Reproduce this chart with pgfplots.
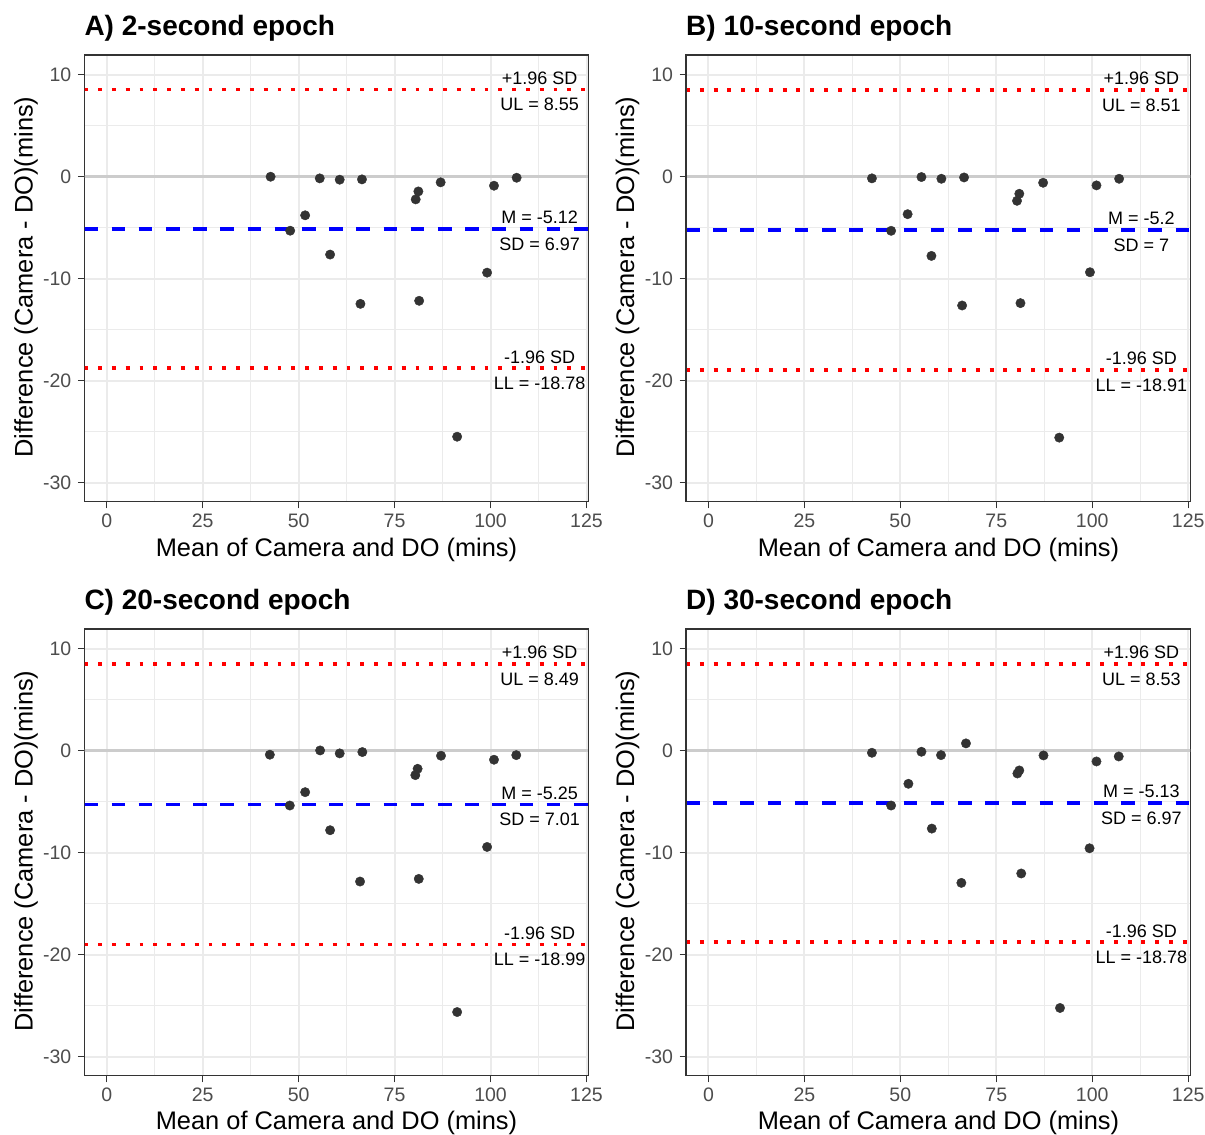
\documentclass[border=0pt]{standalone}
\usepackage{fontspec}
\setmainfont{Liberation Sans}
\usepackage{pgfplots}
\pgfplotsset{compat=1.18}
\usepackage{pgfplotstable}

\definecolor{ggrid}{HTML}{EBEBEB}
\definecolor{zeroline}{HTML}{CCCCCC}
\definecolor{frame}{HTML}{333333}
\definecolor{tlab}{HTML}{4D4D4D}
\definecolor{ptcol}{HTML}{333333}
\definecolor{lred}{HTML}{FF0000}
\definecolor{lblue}{HTML}{0000FF}

\newcommand\titlefont{\fontsize{28bp}{32bp}\selectfont\bfseries}
\newcommand\labfont{\fontsize{25.4bp}{29bp}\selectfont}
\newcommand\annotfont{\fontsize{18bp}{21bp}\selectfont}

\pgfplotstableread{
x y
42.7 0.00
47.8 -5.29
51.7 -3.78
55.5 -0.16
58.2 -7.63
60.7 -0.29
66.5 -0.26
66.1 -12.46
80.5 -2.22
81.2 -1.44
81.4 -12.16
87.0 -0.55
91.3 -25.48
99.1 -9.40
100.9 -0.88
106.8 -0.10
}\dataA
\pgfplotstableread{
x y
42.6 -0.16
47.6 -5.30
51.9 -3.67
55.5 -0.03
58.1 -7.76
60.7 -0.20
66.6 -0.07
66.1 -12.62
80.4 -2.36
81.0 -1.67
81.3 -12.39
87.2 -0.59
91.4 -25.57
99.4 -9.36
101.1 -0.85
107.0 -0.20
}\dataB
\pgfplotstableread{
x y
42.5 -0.39
47.7 -5.37
51.7 -4.06
55.6 0.03
58.2 -7.79
60.7 -0.26
66.6 -0.13
66.0 -12.82
80.4 -2.39
81.0 -1.77
81.3 -12.56
87.1 -0.49
91.3 -25.61
99.1 -9.43
100.9 -0.88
106.7 -0.43
}\dataC
\pgfplotstableread{
x y
42.6 -0.20
47.6 -5.37
52.1 -3.24
55.5 -0.10
58.2 -7.63
60.6 -0.43
67.1 0.72
65.9 -12.95
80.5 -2.23
81.0 -1.93
81.5 -12.03
87.3 -0.46
91.6 -25.21
99.3 -9.56
101.1 -1.05
106.9 -0.56
}\dataD

\pgfplotsset{
  baplot/.style={
    scale only axis, width=504.5bp, height=446.8bp,
    xmin=-5.84, xmax=125.6, ymin=-31.86, ymax=11.93,
    xtick={0,25,50,75,100,125}, xticklabels={0,25,50,75,100,125},
    ytick={-30,-20,-10,0,10}, yticklabels={-30,-20,-10,0,10},
    minor xtick={12.5,37.5,62.5,87.5,112.5}, minor ytick={-25,-15,-5,5},
    grid=both,
    major grid style={color=ggrid, line width=2bp},
    minor grid style={color=ggrid, line width=1bp},
    minor tick length=0pt,
    major tick length=6.5bp,
    tick align=outside,
    xtick pos=bottom, ytick pos=left,
    tick style={color=frame, line width=1.3bp},
    axis line style={color=frame, line width=1.3bp},
    ticklabel style={font=\fontsize{19.5bp}{22bp}\selectfont, text=tlab, inner sep=0pt},
    xticklabel style={anchor=north, yshift=-5.5bp},
    yticklabel style={anchor=east, xshift=-6.3bp},
    clip=true,
  },
  pts/.style={only marks, mark=*, mark size=4.7bp, color=ptcol, mark options={draw=none, fill=ptcol}},
  zl/.style={color=zeroline, line width=2.5bp},
  lim/.style={color=lred, line width=3.9bp, dash pattern=on 3.9bp off 9.9bp},
  mn/.style={color=lblue, line width=3.6bp, dash pattern=on 13.6bp off 13.6bp},
}
\tikzset{an/.style={font=\annotfont, text=black, inner sep=0pt, anchor=center}}

\begin{document}
\begin{tikzpicture}
\path[use as bounding box] (0,0) rectangle (1205bp,-1135bp);

% ---------- A ----------
\begin{axis}[baplot, at={(84.3bp,-55bp)}, anchor=north west]
\addplot[zl] coordinates {(-5.84,0) (125.6,0)};
\addplot[lim] coordinates {(-5.84,8.55) (125.6,8.55)};
\addplot[lim] coordinates {(-5.84,-18.78) (125.6,-18.78)};
\addplot[mn] coordinates {(-5.84,-5.12) (125.6,-5.12)};
\addplot[pts] table[x=x,y=y] {\dataA};
\node[an] at (axis cs:112.8,9.67) {+1.96 SD};
\node[an] at (axis cs:112.8,7.05) {UL = 8.55};
\node[an] at (axis cs:112.8,-4.00) {M = -5.12};
\node[an] at (axis cs:112.8,-6.62) {SD = 6.97};
\node[an] at (axis cs:112.8,-17.66) {-1.96 SD};
\node[an] at (axis cs:112.8,-20.28) {LL = -18.78};
\draw[frame, line width=1.3bp] (rel axis cs:0,0) rectangle (rel axis cs:1,1);
\end{axis}

% ---------- B ----------
\begin{axis}[baplot, at={(686bp,-55bp)}, anchor=north west]
\addplot[zl] coordinates {(-5.84,0) (125.6,0)};
\addplot[lim] coordinates {(-5.84,8.51) (125.6,8.51)};
\addplot[lim] coordinates {(-5.84,-18.91) (125.6,-18.91)};
\addplot[mn] coordinates {(-5.84,-5.2) (125.6,-5.2)};
\addplot[pts] table[x=x,y=y] {\dataB};
\node[an] at (axis cs:112.8,9.63) {+1.96 SD};
\node[an] at (axis cs:112.8,7.01) {UL = 8.51};
\node[an] at (axis cs:112.8,-4.08) {M = -5.2};
\node[an] at (axis cs:112.8,-6.70) {SD = 7};
\node[an] at (axis cs:112.8,-17.79) {-1.96 SD};
\node[an] at (axis cs:112.8,-20.41) {LL = -18.91};
\draw[frame, line width=1.3bp] (rel axis cs:0,0) rectangle (rel axis cs:1,1);
\end{axis}

% ---------- C ----------
\begin{axis}[baplot, at={(84.3bp,-629bp)}, anchor=north west]
\addplot[zl] coordinates {(-5.84,0) (125.6,0)};
\addplot[lim] coordinates {(-5.84,8.49) (125.6,8.49)};
\addplot[lim] coordinates {(-5.84,-18.99) (125.6,-18.99)};
\addplot[mn] coordinates {(-5.84,-5.25) (125.6,-5.25)};
\addplot[pts] table[x=x,y=y] {\dataC};
\node[an] at (axis cs:112.8,9.61) {+1.96 SD};
\node[an] at (axis cs:112.8,6.99) {UL = 8.49};
\node[an] at (axis cs:112.8,-4.13) {M = -5.25};
\node[an] at (axis cs:112.8,-6.75) {SD = 7.01};
\node[an] at (axis cs:112.8,-17.87) {-1.96 SD};
\node[an] at (axis cs:112.8,-20.49) {LL = -18.99};
\draw[frame, line width=1.3bp] (rel axis cs:0,0) rectangle (rel axis cs:1,1);
\end{axis}

% ---------- D ----------
\begin{axis}[baplot, at={(686bp,-629bp)}, anchor=north west]
\addplot[zl] coordinates {(-5.84,0) (125.6,0)};
\addplot[lim] coordinates {(-5.84,8.53) (125.6,8.53)};
\addplot[lim] coordinates {(-5.84,-18.78) (125.6,-18.78)};
\addplot[mn] coordinates {(-5.84,-5.13) (125.6,-5.13)};
\addplot[pts] table[x=x,y=y] {\dataD};
\node[an] at (axis cs:112.8,9.65) {+1.96 SD};
\node[an] at (axis cs:112.8,7.03) {UL = 8.53};
\node[an] at (axis cs:112.8,-4.01) {M = -5.13};
\node[an] at (axis cs:112.8,-6.63) {SD = 6.97};
\node[an] at (axis cs:112.8,-17.66) {-1.96 SD};
\node[an] at (axis cs:112.8,-20.28) {LL = -18.78};
\draw[frame, line width=1.3bp] (rel axis cs:0,0) rectangle (rel axis cs:1,1);
\end{axis}

% ---------- titles and labels ----------
\node[anchor=base west, font=\titlefont, inner sep=0pt] at (84.3bp,-35bp) {A) 2-second epoch};
\node[anchor=base west, font=\titlefont, inner sep=0pt] at (686bp,-35bp) {B) 10-second epoch};
\node[anchor=base west, font=\titlefont, inner sep=0pt] at (84.3bp,-609bp) {C) 20-second epoch};
\node[anchor=base west, font=\titlefont, inner sep=0pt] at (686bp,-609bp) {D) 30-second epoch};

\node[anchor=base, font=\labfont, inner sep=0pt] at (336.5bp,-556bp) {Mean of Camera and DO (mins)};
\node[anchor=base, font=\labfont, inner sep=0pt] at (938.5bp,-556bp) {Mean of Camera and DO (mins)};
\node[anchor=base, font=\labfont, inner sep=0pt] at (336.5bp,-1129bp) {Mean of Camera and DO (mins)};
\node[anchor=base, font=\labfont, inner sep=0pt] at (938.5bp,-1129bp) {Mean of Camera and DO (mins)};

\node[anchor=base, rotate=90, font=\labfont, inner sep=0pt] at (32.5bp,-277bp) {Difference (Camera - DO)(mins)};
\node[anchor=base, rotate=90, font=\labfont, inner sep=0pt] at (634.2bp,-277bp) {Difference (Camera - DO)(mins)};
\node[anchor=base, rotate=90, font=\labfont, inner sep=0pt] at (32.5bp,-851bp) {Difference (Camera - DO)(mins)};
\node[anchor=base, rotate=90, font=\labfont, inner sep=0pt] at (634.2bp,-851bp) {Difference (Camera - DO)(mins)};
\end{tikzpicture}
\end{document}
